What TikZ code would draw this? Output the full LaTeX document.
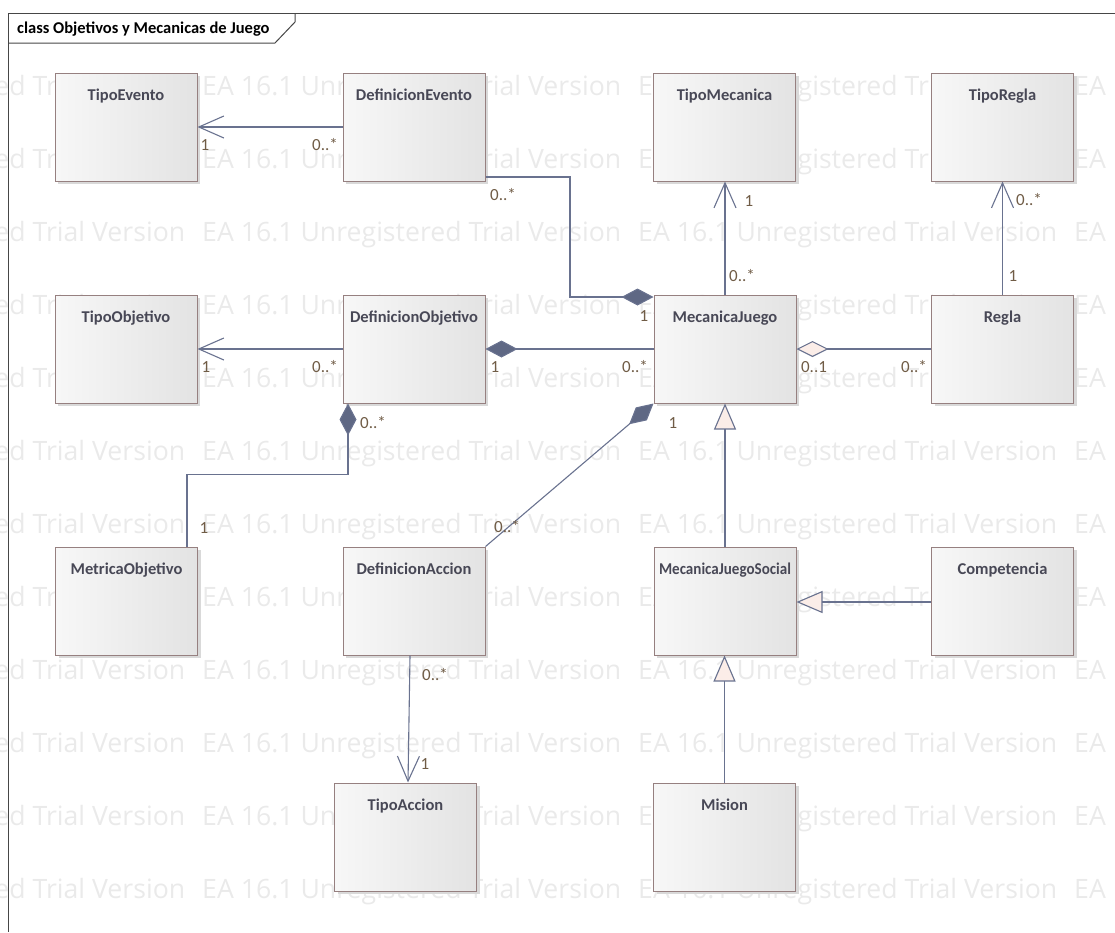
\documentclass[tikz,border=0pt]{standalone}
\usepackage{fontspec}
\setmainfont{Carlito}
\newfontfamily\wmfont{Open Sans}
\usetikzlibrary{arrows.meta,shadows,calc}
\definecolor{linec}{RGB}{105,114,143}
\definecolor{diac}{RGB}{95,104,132}
\definecolor{pinkc}{RGB}{251,237,232}
\definecolor{borderc}{RGB}{150,128,128}
\definecolor{titlec}{RGB}{72,72,86}
\definecolor{multc}{RGB}{112,92,70}
\definecolor{wmc}{RGB}{234,234,234}
\definecolor{framec}{RGB}{70,70,70}
\begin{document}
\begin{tikzpicture}[x=1pt,y=-1pt,
  umlbox/.style={draw=borderc, line width=1pt, minimum width=142pt, minimum height=108pt,
    inner sep=0pt, left color=black!3, right color=black!11,
    drop shadow={shadow xshift=3pt, shadow yshift=-3pt, fill=black!15, opacity=1}},
  ttl/.style={anchor=base, yshift=-28pt, font=\bfseries\fontsize{16.5}{18}\selectfont, text=titlec, inner sep=0pt},
  mult/.style={font=\fontsize{17}{19}\selectfont, text=multc, inner sep=0pt},
  wmk/.style={font=\wmfont\fontsize{28}{30}\selectfont, text=wmc, inner sep=0pt, anchor=base west},
  conn/.style={draw=linec, line width=1.1pt},
  assoc/.style={conn, -{Straight Barb[length=25pt,width=22pt]}},
  comp/.style={conn, -{Diamond[length=32pt,width=17pt,fill=diac]}},
  aggr/.style={conn, -{Diamond[open,length=32pt,width=16pt,fill=pinkc]}},
  gen/.style={conn, -{Triangle[open,length=26pt,width=22pt,fill=pinkc]}}
]
\clip (0,0) rectangle (1115,932);
% watermark
\foreach \r in {0,...,11}{
  \foreach \c in {-1,0,1,2}{
    \node[wmk] (w\r\c) at ({202+436*\c},{95+73*\r}) {\resizebox{419pt}{!}{EA 16.1 Unregistered Trial Version}};
  }
}
% frame
\draw[framec, line width=1pt] (1115,13) -- (8,13) -- (8,932);
\draw[framec, line width=1pt] (8,43) -- (275,43) -- (295,22) -- (295,13);
\node[anchor=base west, inner sep=0pt, font=\bfseries\fontsize{16.5}{18}\selectfont] (ftitle) at (17,33) {class Objetivos y Mecanicas de Juego};
% boxes
\node[umlbox, label={[ttl]north:TipoEvento}] (te) at (126,127) {};
\node[umlbox, label={[ttl]north:DefinicionEvento}] (de) at (414,127) {};
\node[umlbox, label={[ttl]north:TipoMecanica}] (tm) at (724.5,127) {};
\node[umlbox, label={[ttl]north:TipoRegla}] (tr) at (1002.5,127) {};
\node[umlbox, label={[ttl]north:TipoObjetivo}] (to) at (126,349) {};
\node[umlbox, label={[ttl]north:DefinicionObjetivo}] (dob) at (414,349) {};
\node[umlbox, label={[ttl]north:MecanicaJuego}] (mj) at (725,349) {};
\node[umlbox, label={[ttl]north:Regla}] (rg) at (1002.5,349) {};
\node[umlbox, label={[ttl]north:MetricaObjetivo}] (mo) at (126.5,601) {};
\node[umlbox, label={[ttl]north:DefinicionAccion}] (da) at (414,601) {};
\node[umlbox, label={[ttl]north:{\resizebox{132pt}{\height}{MecanicaJuegoSocial}}}] (mjs) at (725,601) {};
\node[umlbox, label={[ttl]north:Competencia}] (cp) at (1002.5,601) {};
\node[umlbox, label={[ttl]north:TipoAccion}] (ta) at (405.5,837) {};
\node[umlbox, label={[ttl]north:Mision}] (ms) at (724.5,837) {};
% connectors
\draw[assoc] (de.west) -- (te.east);
\draw[comp] ([yshift=-50pt]de.east) -- (570,177) -- (570,297) -- ([yshift=52pt]mj.west);
\draw[assoc] (mj.north) -- (mj.north |- tm.south);
\draw[assoc] (rg.north) -- (rg.north |- tr.south);
\draw[assoc] (dob.west) -- (to.east);
\draw[comp] (mj.west) -- (dob.east);
\draw[aggr] (rg.west) -- (mj.east);
\draw[comp] ([xshift=60.5pt]mo.north) -- ++(0,-72) -| ([xshift=-66pt]dob.south);
\draw[comp] (da.north east) -- (mj.south west);
\draw[gen] (mjs.north) -- (mj.south);
\draw[gen] ([yshift=-1pt]cp.west) -- ([yshift=-1pt]mjs.east);
\draw[gen] (ms.north) -- (ms.north |- mjs.south);
\draw[assoc] ([xshift=-4pt]da.south) -- ([xshift=2.5pt]ta.north);
% multiplicities
\node[mult] (l1) at (205,145) {1};
\node[mult] (l2) at (325,145) {0..*};
\node[mult] (l3) at (503,195) {0..*};
\node[mult] (l4) at (644,316) {1};
\node[mult] (l5) at (749,201) {1};
\node[mult] (l6) at (742,276) {0..*};
\node[mult] (l7) at (1029,200) {0..*};
\node[mult] (l8) at (1013,276) {1};
\node[mult] (l9) at (206,367) {1};
\node[mult] (l10) at (325,367) {0..*};
\node[mult] (l11) at (495,367) {1};
\node[mult] (l12) at (635,367) {0..*};
\node[mult] (l13) at (814,367) {0..1};
\node[mult] (l14) at (914,367) {0..*};
\node[mult] (l15) at (373,423) {0..*};
\node[mult] (l16) at (204,528) {1};
\node[mult] (l17) at (673,423) {1};
\node[mult] (l18) at (507,527) {0..*};
\node[mult] (l19) at (435,675) {0..*};
\node[mult] (l20) at (425,764) {1};
\end{tikzpicture}
\end{document}
